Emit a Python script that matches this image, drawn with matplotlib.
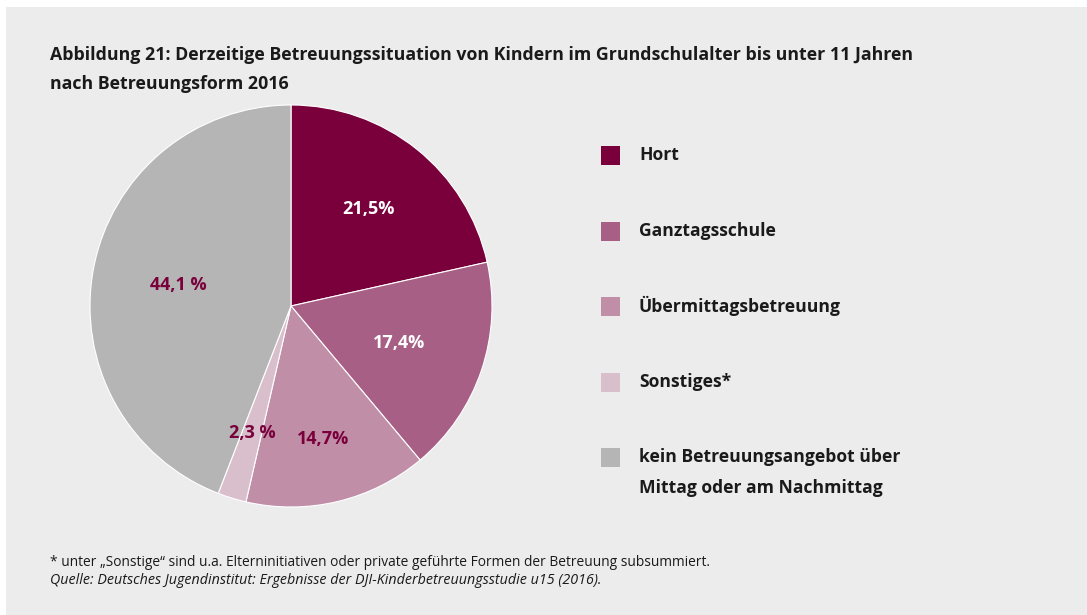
import numpy as np
import matplotlib
matplotlib.use("Agg")
import matplotlib.pyplot as plt
from matplotlib.patches import Rectangle

# ---- data ----
categories = ["Hort", "Ganztagsschule", "Übermittagsbetreuung", "Sonstiges*",
              "kein Betreuungsangebot über\nMittag oder am Nachmittag"]
values = [21.5, 17.4, 14.7, 2.3, 44.1]
value_labels = ["21,5%", "17,4%", "14,7%", "2,3 %", "44,1 %"]
colors = ["#7a003c", "#a85f85", "#c18ea8", "#d9bfcc", "#b5b5b5"]
label_colors = ["white", "white", "#7a003c", "#7a003c", "#7a003c"]
label_r = [0.62, 0.57, 0.68, 0.66, 0.57]

title_lines = ["Abbildung 21: Derzeitige Betreuungssituation von Kindern im Grundschulalter bis unter 11 Jahren",
               "nach Betreuungsform 2016"]
footnote = "* unter „Sonstige“ sind u.a. Elterninitiativen oder private geführte Formen der Betreuung subsummiert."
source = "Quelle: Deutsches Jugendinstitut: Ergebnisse der DJI-Kinderbetreuungsstudie u15 (2016)."

W, H = 1087, 615
fig = plt.figure(figsize=(W / 100, H / 100), dpi=100, facecolor="white")
FONT = "Open Sans"
TXT = "#1a1a1a"

def fx(px):
    return px / W

def fy(py):
    return 1 - py / H

# background panel
fig.patches.append(Rectangle((6 / W, 0), 1 - 6 / W, 1 - 7 / H, transform=fig.transFigure,
                             facecolor="#ececec", edgecolor="none", zorder=-1))

# title
fig.text(fx(50), fy(55), title_lines[0], fontsize=12.8, fontweight="bold",
         family=FONT, color=TXT, va="center", ha="left")
fig.text(fx(50), fy(84), title_lines[1], fontsize=12.8, fontweight="bold",
         family=FONT, color=TXT, va="center", ha="left")

# pie
cx, cy, r = 291, 306, 201
ax = fig.add_axes([fx(cx - r), fy(cy + r), 2 * r / W, 2 * r / H], zorder=2)
ax.set_facecolor("none")
wedges, _ = ax.pie(values, colors=colors, startangle=90, counterclock=False,
                   wedgeprops=dict(edgecolor="white", linewidth=0.8))
ax.set_xlim(-1, 1)
ax.set_ylim(-1, 1)
ax.set_aspect("equal")
ax.axis("off")
for w, lab, lc, rr in zip(wedges, value_labels, label_colors, label_r):
    ang = np.deg2rad((w.theta1 + w.theta2) / 2)
    ax.text(rr * np.cos(ang), rr * np.sin(ang), lab, ha="center", va="center",
            fontsize=13, fontweight="bold", family=FONT, color=lc)

# legend
legend_y = [155, 231, 306, 382, 457]
for cat, col, ly in zip(categories, colors, legend_y):
    fig.patches.append(Rectangle((fx(601), fy(ly + 9.5)), 19 / W, 19 / H,
                                 transform=fig.transFigure, facecolor=col, edgecolor="none"))
    for k, line in enumerate(cat.split("\n")):
        fig.text(fx(639), fy(ly + 31 * k), line, fontsize=12.6, fontweight="bold",
                 family=FONT, color=TXT, va="center", ha="left")

# footnotes
fig.text(fx(50), fy(563), footnote, fontsize=9.9, family=FONT, color=TXT,
         va="center", ha="left")
fig.text(fx(50), fy(581), source, fontsize=10.3, family=FONT, style="italic",
         color=TXT, va="center", ha="left")

fig.savefig("out.png", dpi=100, facecolor="white")
